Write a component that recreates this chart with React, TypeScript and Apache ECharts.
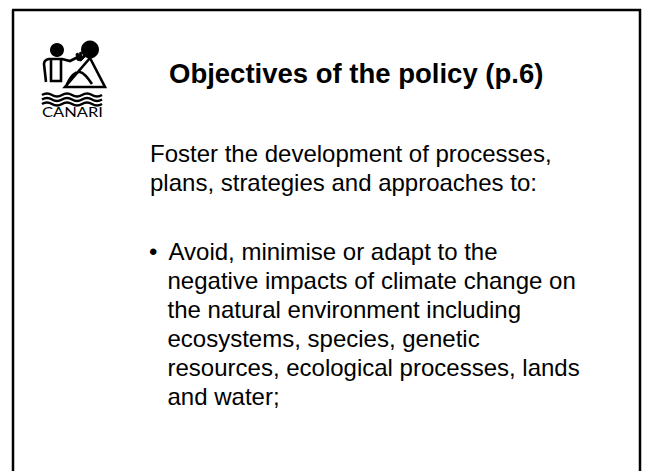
import React, { useEffect, useRef } from "react";
import * as echarts from "echarts";

const TITLE = "Objectives of the policy (p.6)";
const INTRO_LINES = [
  "Foster the development of processes,",
  "plans, strategies and approaches to:",
];
const BULLET_LINES = [
  "Avoid, minimise or adapt to the",
  "negative impacts of climate change on",
  "the natural environment including",
  "ecosystems, species, genetic",
  "resources, ecological processes, lands",
  "and water;",
];
const LOGO_TEXT = "CANARI";

const LOGO_STROKE_D =
  "M46,82 L44,64 Q44,60 49,59 L62,59 L70,61 L78,57 " +
  "M51,60 L51,81 L61,81 L61,60 " +
  "M90,58 L65,87 L105,87 Z " +
  "M66,87 C70,76 76,71 80,72 C84,73 88,78 92,84 " +
  "M42,95 q5,-3 10,0 t10,0 t10,0 t10,0 t10,0 t10,0 " +
  "M42,99.5 q5,-3 10,0 t10,0 t10,0 t10,0 t10,0 t10,0 " +
  "M42,104 q5,-3 10,0 t10,0 t10,0 t10,0 t10,0 t10,0";
const LOGO_FILL_D =
  "M77,60 L76,54 L78,53 L79,57 L80,52 L82,53 L81,57 L84,55 L85,57 L81,61 Z";

echarts.graphic.registerShape("logoStroke", echarts.graphic.extendPath(LOGO_STROKE_D, {}));
echarts.graphic.registerShape("logoFill", echarts.graphic.extendPath(LOGO_FILL_D, {}));

const FONT = '"Liberation Sans", Arial, sans-serif';

export default function App() {
  const ref = useRef<HTMLDivElement>(null);
  useEffect(() => {
    if (!ref.current) return;
    const chart = echarts.init(ref.current, null, { renderer: "svg" });
    const bodySize = 24;
    const lineGap = 29;
    const mid = (baseline: number, fs: number) => baseline - 0.35 * fs;
    const elements: any[] = [];
    // frame
    elements.push(
      { type: "line", shape: { x1: 13, y1: 10, x2: 13, y2: 475 }, style: { stroke: "#000", lineWidth: 2.5 } },
      { type: "line", shape: { x1: 12, y1: 10, x2: 641, y2: 10 }, style: { stroke: "#000", lineWidth: 2.5 } },
      { type: "line", shape: { x1: 640, y1: 9, x2: 640, y2: 475 }, style: { stroke: "#000", lineWidth: 2.5 } }
    );
    // logo
    elements.push(
      { type: "circle", shape: { cx: 57, cy: 50, r: 7 }, style: { fill: "#000" } },
      { type: "circle", shape: { cx: 90, cy: 49.5, r: 9 }, style: { fill: "#000" } },
      { type: "logoStroke", x: 0, y: 0, style: { fill: "none", stroke: "#000", lineWidth: 2.6 } },
      { type: "logoFill", x: 0, y: 0, style: { fill: "#000", stroke: "#000", lineWidth: 1 } },
      {
        type: "text",
        x: 72.5,
        y: 112,
        scaleX: 1.18,
        style: { text: LOGO_TEXT, align: "center", verticalAlign: "middle", font: '14px Lato, "DejaVu Sans", sans-serif', fill: "#000" },
      }
    );
    // title
    elements.push({
      type: "text",
      x: 169,
      y: mid(83.5, 27.5),
      style: { text: TITLE, align: "left", verticalAlign: "middle", font: `bold 27.5px ${FONT}`, fill: "#000" },
    });
    INTRO_LINES.forEach((t, i) => {
      elements.push({
        type: "text",
        x: 150,
        y: mid(162 + i * lineGap, bodySize),
        style: { text: t, align: "left", verticalAlign: "middle", font: `${bodySize}px ${FONT}`, fill: "#000" },
      });
    });
    elements.push({
      type: "text",
      x: 149,
      y: mid(260, bodySize),
      style: { text: "\u2022", align: "left", verticalAlign: "middle", font: `${bodySize}px ${FONT}`, fill: "#000" },
    });
    BULLET_LINES.forEach((t, i) => {
      elements.push({
        type: "text",
        x: i === 0 ? 168.5 : 167.5,
        y: mid(260 + i * lineGap, bodySize),
        style: { text: t, align: "left", verticalAlign: "middle", font: `${bodySize}px ${FONT}`, fill: "#000" },
      });
    });
    chart.setOption({ animation: false, backgroundColor: "#fff", graphic: { elements } });
    return () => chart.dispose();
  }, []);
  return (
    <div
      ref={ref}
      style={{ position: "fixed", left: 0, top: 0, width: 647, height: 471, background: "#fff" }}
    />
  );
}
